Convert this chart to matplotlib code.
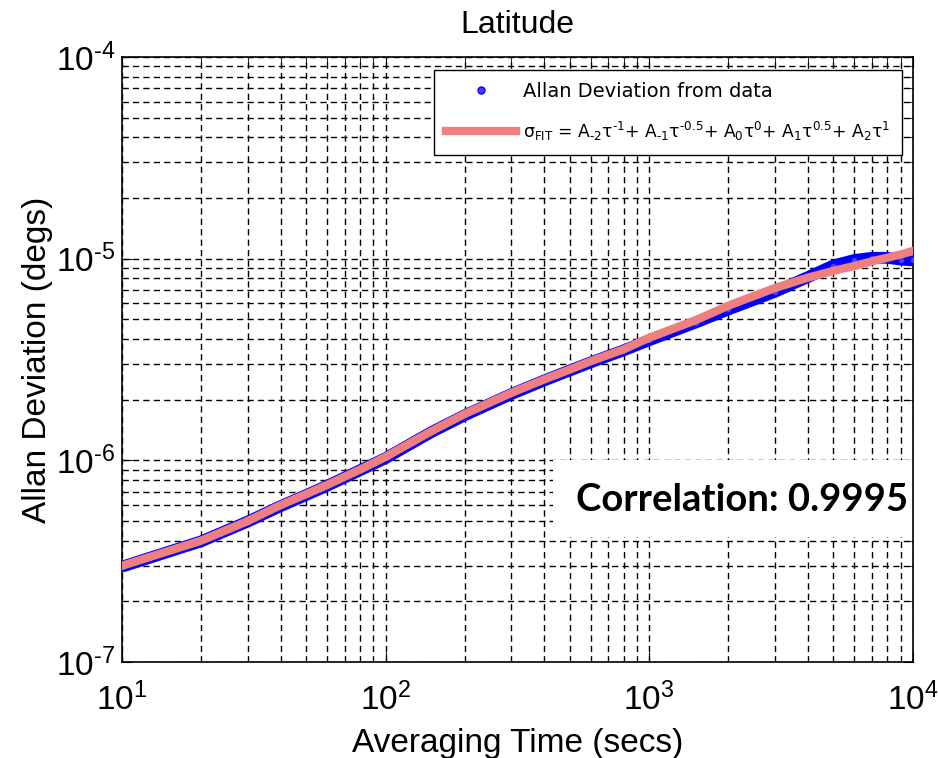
"""Allan deviation of latitude with power-law fit"""

import matplotlib
matplotlib.use('Agg')
from matplotlib import pyplot as plt
from matplotlib.patches import Rectangle
from matplotlib.ticker import FuncFormatter
import numpy as np

# averaging times (secs)
tau = [10, 15, 20, 30, 40, 50, 60, 80, 100, 150, 200, 300, 400, 500, 600,
       800, 1000, 1500, 2000, 3000, 4000, 5000, 6000, 7000, 8000, 9000, 10000]
# Allan deviation from data (degs)
adev = [2.97e-7, 3.52e-7, 3.97e-7, 4.97e-7, 5.93e-7, 6.73e-7, 7.48e-7, 8.93e-7,
        1.025e-6, 1.385e-6, 1.675e-6, 2.13e-6, 2.49e-6, 2.79e-6, 3.06e-6,
        3.51e-6, 3.94e-6, 4.82e-6, 5.6e-6, 6.85e-6, 8.1e-6, 9.25e-6, 9.85e-6,
        1.01e-5, 1.01e-5, 9.9e-6, 9.8e-6]
# fitted curve (degs)
fit = [3.0e-7, 3.55e-7, 4.0e-7, 5.0e-7, 6.0e-7, 6.8e-7, 7.55e-7, 9.0e-7,
       1.04e-6, 1.4e-6, 1.7e-6, 2.16e-6, 2.52e-6, 2.82e-6, 3.1e-6,
       3.55e-6, 4.05e-6, 4.95e-6, 5.85e-6, 7.15e-6, 8.05e-6, 8.7e-6, 9.2e-6,
       9.7e-6, 1.01e-5, 1.05e-5, 1.09e-5]
correlation = 0.9995

HY = '\u2010'  # short hyphen, mathtext turns '-' into a long minus

plt.rcParams['font.family'] = ['Liberation Sans', 'DejaVu Sans']
plt.rcParams['mathtext.default'] = 'regular'


def pow10(v, pos):
    e = int(round(np.log10(v)))
    return '10$^{%s}$' % str(e).replace('-', HY)


fig = plt.figure(figsize=(9.38, 7.58), dpi=100)
ax = fig.add_axes([0.130, 0.1266, 0.843, 0.7982])

ax.plot(tau, adev, color='blue', linewidth=8.5, solid_capstyle='butt', zorder=3)
ax.plot(tau, adev, 'o', color='blue', markersize=5, zorder=3,
        markerfacecolor='#4040ff', label='Allan Deviation from data')
fit_label = ('σ$_{FIT}$ = A$_{-2}$τ$^{-1}$+ A$_{-1}$τ$^{-0.5}$+ '
             'A$_{0}$τ$^{0}$+ A$_{1}$τ$^{0.5}$+ A$_{2}$τ$^{1}$').replace('-', HY)
ax.plot(tau, fit, color='#ef7f7f', linewidth=6, zorder=4, label=fit_label)

ax.set_xscale('log')
ax.set_yscale('log')
ax.set_xlim(10, 1e4)
ax.set_ylim(1e-7, 1e-4)
ax.xaxis.set_major_formatter(FuncFormatter(pow10))
ax.yaxis.set_major_formatter(FuncFormatter(pow10))

ax.grid(True, which='both', color='black', linestyle=(0, (4.5, 3)), linewidth=1.0)
ax.tick_params(which='both', direction='in', top=True, right=True)
ax.tick_params(which='major', length=7, labelsize=24)
ax.tick_params(axis='x', which='major', pad=15)
ax.tick_params(axis='y', which='major', pad=5)
ax.tick_params(which='minor', length=4)
for s in ax.spines.values():
    s.set_linewidth(1.2)

ax.set_title('Latitude', fontsize=23, pad=17)
ax.set_xlabel('Averaging Time (secs)', fontsize=24, labelpad=8)
ax.set_ylabel('Allan Deviation (degs)', fontsize=24, labelpad=2)

leg = ax.legend(loc='upper right', bbox_to_anchor=(0.987, 0.9785),
                borderaxespad=0, prop={'family': 'DejaVu Sans', 'size': 14},
                fancybox=False, edgecolor='black', framealpha=1,
                handlelength=3.6, handletextpad=0.4, labelspacing=1.0,
                borderpad=0.6)
leg.get_frame().set_linewidth(1.0)
leg.get_texts()[1].set_fontsize(12.3)

ax.add_patch(Rectangle((0.545, 0.2066), 0.455, 0.127, transform=ax.transAxes,
                       facecolor='white', edgecolor='none', zorder=2.5))
ax.text(0.994, 0.268, 'Correlation: %.4f' % correlation, transform=ax.transAxes,
        ha='right', va='center', fontsize=27.5, fontweight='bold',
        family='Lato', zorder=5)

fig.savefig('out.png', dpi=100)
